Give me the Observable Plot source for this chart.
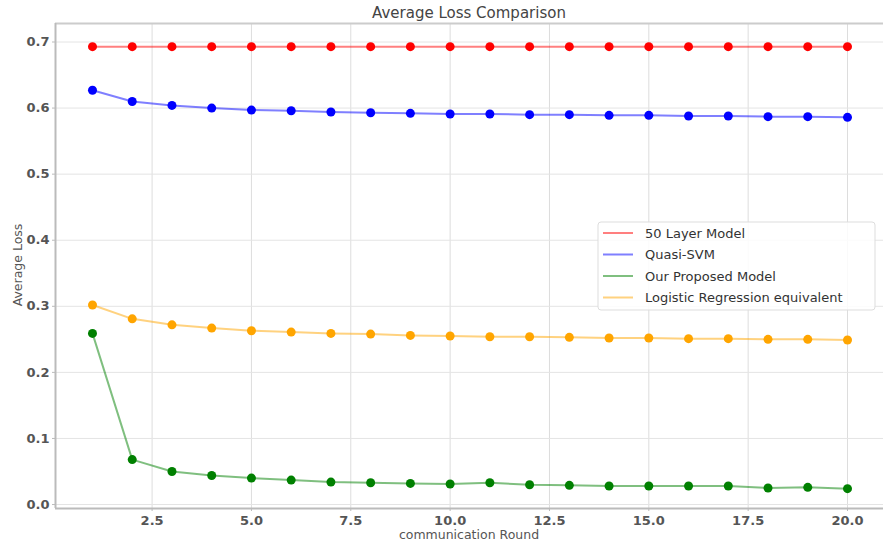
<!DOCTYPE html>
<html>
<head>
<meta charset="utf-8">
<script src="https://cdn.jsdelivr.net/npm/d3@7"></script>
<script src="https://cdn.jsdelivr.net/npm/@observablehq/plot@0.6"></script>
<style>
  html, body { margin: 0; padding: 0; background: #fff; }
  svg { display: block; }
</style>
</head>
<body>
<div id="chart"></div>
<script>
const rounds = d3.range(1, 21);
const seriesNames = ["50 Layer Model", "Quasi-SVM", "Our Proposed Model", "Logistic Regression equivalent"];
const seriesColors = ["#ff0000", "#0000ff", "#008000", "#ffa500"];
const layer50 = [0.693,0.693,0.693,0.693,0.693,0.693,0.693,0.693,0.693,0.693,0.693,0.693,0.693,0.693,0.693,0.693,0.693,0.693,0.693,0.693];
const quasiSVM = [0.627,0.610,0.604,0.600,0.597,0.596,0.594,0.593,0.592,0.591,0.591,0.590,0.590,0.589,0.589,0.588,0.588,0.587,0.587,0.586];
const proposed = [0.259,0.068,0.050,0.044,0.040,0.037,0.034,0.033,0.032,0.031,0.033,0.030,0.029,0.028,0.028,0.028,0.028,0.025,0.026,0.024];
const logistic = [0.302,0.281,0.272,0.267,0.263,0.261,0.259,0.258,0.256,0.255,0.254,0.254,0.253,0.252,0.252,0.251,0.251,0.250,0.250,0.249];
const xTicks = [2.5,5.0,7.5,10.0,12.5,15.0,17.5,20.0];
const yTicks = [0.0,0.1,0.2,0.3,0.4,0.5,0.6,0.7];

const allSeries = [layer50, quasiSVM, proposed, logistic];
const data = [];
allSeries.forEach((vals, i) => vals.forEach((v, j) => data.push({round: rounds[j], loss: v, series: seriesNames[i]})));

const font = "DejaVu Sans, sans-serif";
const yDomain = [-0.006, 0.728];
const plot = Plot.plot({
  width: 883,
  height: 549,
  marginLeft: 55,
  marginRight: 0,
  marginTop: 23,
  marginBottom: 41,
  style: {fontFamily: font, fontSize: "12px", color: "#555", background: "#fff"},
  x: {domain: [0.069, 20.906], ticks: xTicks, tickFormat: d3.format(".1f"), label: null},
  y: {domain: yDomain, ticks: yTicks, tickFormat: d3.format(".1f"), label: null},
  color: {domain: seriesNames, range: seriesColors},
  marks: [
    Plot.gridX(xTicks, {stroke: "#ddd", strokeOpacity: 1, strokeWidth: 1}),
    Plot.gridY(yTicks, {stroke: "#e4e4e4", strokeOpacity: 1, strokeWidth: 1}),
    Plot.ruleY([yDomain[1]], {stroke: "#ccc", strokeWidth: 2}),
    Plot.ruleY([yDomain[0]], {stroke: "#bbb", strokeWidth: 2}),
    Plot.ruleX([0.069], {stroke: "#bbb", strokeWidth: 2}),
    Plot.axisX({ticks: xTicks, tickFormat: d3.format(".1f"), tickSize: 3, tickPadding: 4, stroke: "#bbb", fill: "#555", fontSize: 13, fontWeight: "bold"}),
    Plot.axisY({ticks: yTicks, tickFormat: d3.format(".1f"), tickSize: 3, tickPadding: 3, stroke: "#bbb", fill: "#555", fontSize: 13, fontWeight: "bold"}),
    Plot.line(data, {x: "round", y: "loss", z: "series", stroke: "series", strokeWidth: 2, strokeOpacity: 0.5}),
    Plot.dot(data, {x: "round", y: "loss", fill: "series", r: 4.5})
  ]
});

const svg = d3.select(plot);
svg.append("text").attr("x", 469).attr("y", 18).attr("text-anchor", "middle")
  .attr("font-family", font).attr("font-size", 15).attr("fill", "#444").text("Average Loss Comparison");
svg.append("text").attr("x", 469).attr("y", 539).attr("text-anchor", "middle")
  .attr("font-family", font).attr("font-size", 12.5).attr("fill", "#555").text("communication Round");
svg.append("text").attr("transform", "translate(22,265) rotate(-90)").attr("text-anchor", "middle")
  .attr("font-family", font).attr("font-size", 12.5).attr("fill", "#555").text("Average Loss");

const lg = svg.append("g").attr("text-anchor", "start");
lg.append("rect").attr("x", 598).attr("y", 222).attr("width", 277).attr("height", 88).attr("rx", 3)
  .attr("fill", "#fff").attr("fill-opacity", 0.85).attr("stroke", "#ddd");
seriesNames.forEach((name, i) => {
  const y = 233 + i * 21.5;
  lg.append("line").attr("x1", 603).attr("x2", 633).attr("y1", y).attr("y2", y)
    .attr("stroke", seriesColors[i]).attr("stroke-opacity", 0.5).attr("stroke-width", 2);
  lg.append("text").attr("x", 645).attr("y", y).attr("dy", "0.35em").attr("text-anchor", "start")
    .attr("font-family", font).attr("font-size", 13).attr("fill", "#333").text(name);
});

document.getElementById("chart").appendChild(plot);
</script>
</body>
</html>
